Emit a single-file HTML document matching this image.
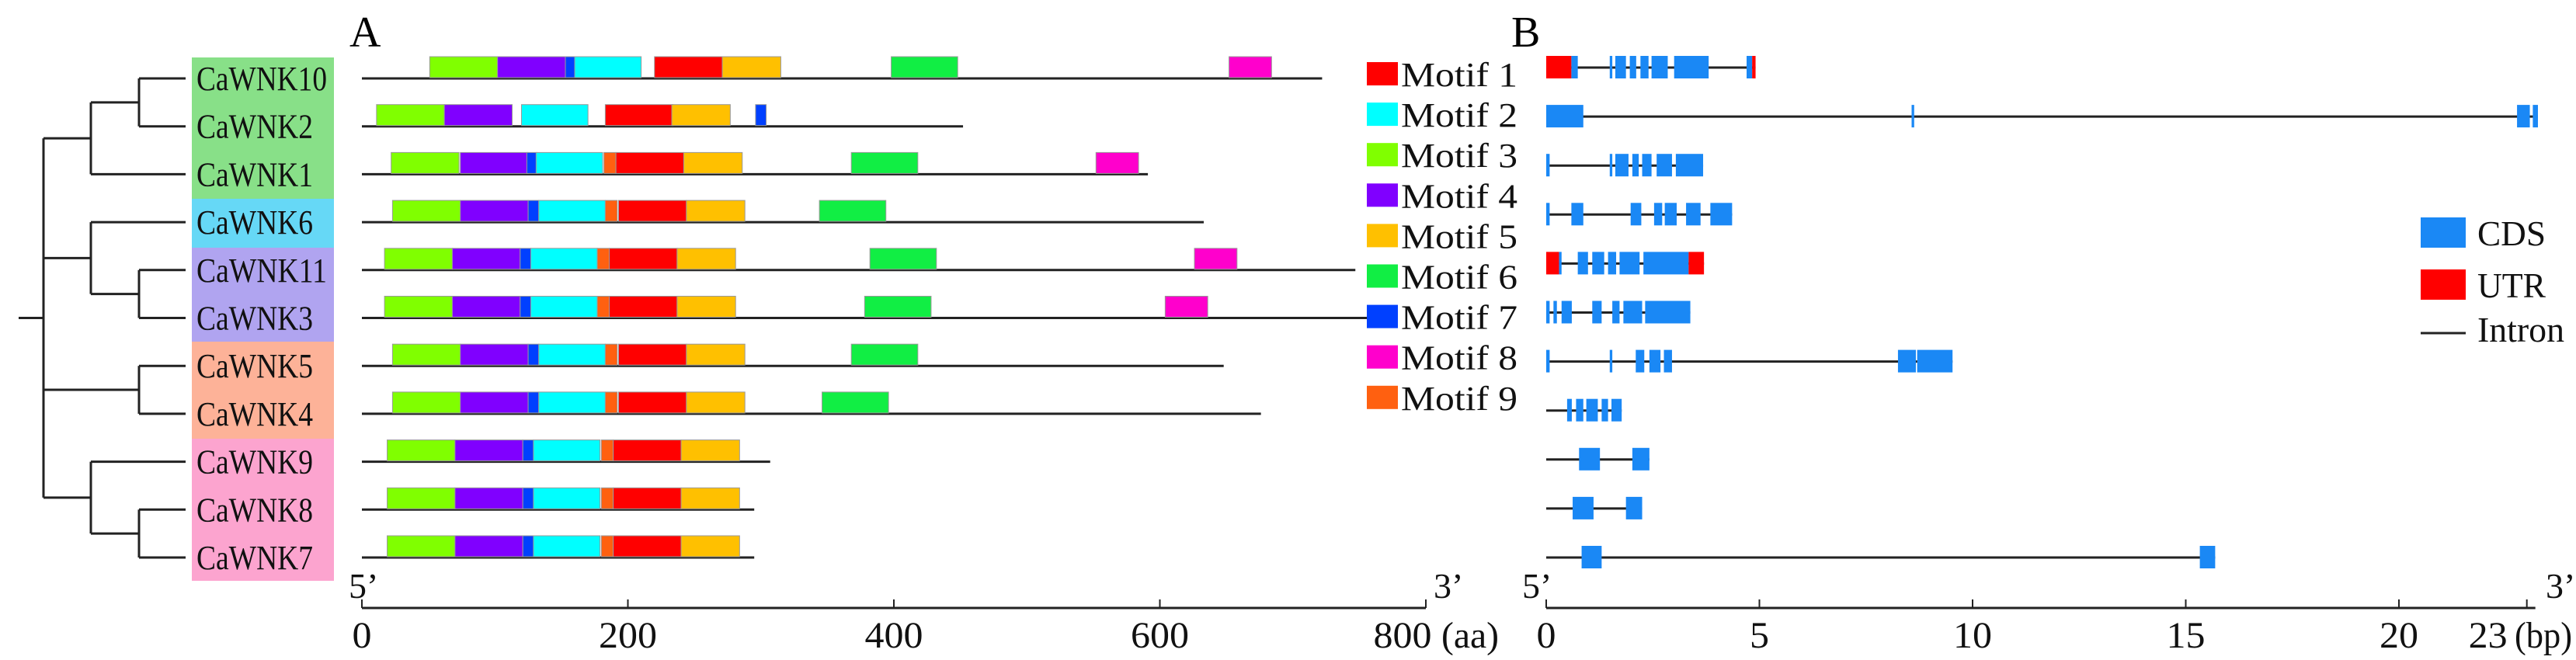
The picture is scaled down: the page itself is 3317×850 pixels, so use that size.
<!DOCTYPE html>
<html><head><meta charset="utf-8"><style>
html,body{margin:0;padding:0;background:#fff;}
svg{display:block;font-family:"Liberation Serif",serif;}
</style></head><body>
<svg id="fig" width="3317" height="850" viewBox="0 0 3317 850" xmlns="http://www.w3.org/2000/svg">
<g id="tree" stroke="#222" stroke-width="3" fill="none"></g>
<g id="labels"></g>
<g id="panelA"></g>
<g id="panelB"></g>
<g id="legend"></g>
<text x="450" y="60" font-size="56">A</text>
<text x="1946" y="60" font-size="56">B</text>
</svg>
<script>
const genes = ["CaWNK10","CaWNK2","CaWNK1","CaWNK6","CaWNK11","CaWNK3","CaWNK5","CaWNK4","CaWNK9","CaWNK8","CaWNK7"];
const proteinLengths = [722,452,591,633,747,764,648,676,307,295,295];
const motifColors = ["#ff0000","#00ffff","#80ff00","#8000ff","#ffc000","#11ee44","#0040ff","#ff00cc","#ff6010"];
const motifWidths = [51,50,51,51,44,50,8,32,9];
const motifIds = [
 [3,4,7,2,1,5,6,8],
 [3,4,2,1,5,7],
 [3,4,7,2,9,1,5,6,8],
 [3,4,7,2,9,1,5,6],
 [3,4,7,2,9,1,5,6,8],
 [3,4,7,2,9,1,5,6,8],
 [3,4,7,2,9,1,5,6],
 [3,4,7,2,9,1,5,6],
 [3,4,7,2,9,1,5],
 [3,4,7,2,9,1,5],
 [3,4,7,2,9,1,5]];
const motifStarts = [
 [51,102,153,160,220,271,398,652],
 [11,62,120,183,233,296],
 [22,74,124,131,182,191,242,368,552],
 [23,74,125,133,183,193,244,344],
 [17,68,119,127,177,186,237,382,626],
 [17,68,119,127,177,186,237,378,604],
 [23,74,125,133,183,193,244,368],
 [23,74,125,133,183,193,244,346],
 [19,70,121,129,180,189,240],
 [19,70,121,129,180,189,240],
 [19,70,121,129,180,189,240]];
const aaTicks = [0,200,400,600,800];
const kbTicks = [0,5,10,15,20,23];
const geneLengthsKb = [4.91,23.26,3.68,4.36,3.70,3.38,9.53,1.77,2.42,2.25,15.69];
const exons = [
 [[0,0.59,"U"],[0.59,0.74,"C"],[1.49,1.55,"C"],[1.62,1.87,"C"],[1.96,2.11,"C"],[2.21,2.40,"C"],[2.47,2.85,"C"],[3.0,3.81,"C"],[4.70,4.83,"C"],[4.83,4.91,"U"]],
 [[0,0.87,"C"],[8.57,8.63,"C"],[22.77,23.07,"C"],[23.14,23.26,"C"]],
 [[0,0.08,"C"],[1.49,1.55,"C"],[1.62,1.93,"C"],[2.02,2.17,"C"],[2.25,2.47,"C"],[2.59,2.95,"C"],[3.04,3.68,"C"]],
 [[0,0.08,"C"],[0.59,0.87,"C"],[1.98,2.23,"C"],[2.53,2.72,"C"],[2.78,3.06,"C"],[3.28,3.62,"C"],[3.85,4.36,"C"]],
 [[0,0.30,"U"],[0.30,0.36,"C"],[0.74,0.98,"C"],[1.08,1.36,"C"],[1.45,1.64,"C"],[1.72,2.19,"C"],[2.28,3.34,"C"],[3.34,3.70,"U"]],
 [[0,0.08,"C"],[0.17,0.25,"C"],[0.36,0.60,"C"],[1.08,1.30,"C"],[1.55,1.72,"C"],[1.81,2.25,"C"],[2.32,3.38,"C"]],
 [[0,0.08,"C"],[1.49,1.55,"C"],[2.10,2.30,"C"],[2.42,2.68,"C"],[2.76,2.95,"C"],[8.25,8.67,"C"],[8.70,9.53,"C"]],
 [[0.49,0.60,"C"],[0.70,0.87,"C"],[0.94,1.21,"C"],[1.30,1.45,"C"],[1.53,1.77,"C"]],
 [[0.77,1.26,"C"],[2.02,2.42,"C"]],
 [[0.62,1.11,"C"],[1.87,2.25,"C"]],
 [[0.83,1.30,"C"],[15.33,15.69,"C"]]];

const NS="http://www.w3.org/2000/svg";
function mk(parent,tag,attrs,text){const e=document.createElementNS(NS,tag);for(const k in attrs)e.setAttribute(k,attrs[k]);if(text!==undefined)e.textContent=text;parent.appendChild(e);return e;}
const xA=aa=>466+aa*1.7125;
const xB=kb=>1991+kb*54.9;
const rowY=i=>101+i*61.7;
const rowYB=i=>87+i*63.1;

const L=document.getElementById('labels');
const bandEdges=[74,256,319,440,565,748];
const bandCols=["#88e088","#66d8f6","#b0a4f0","#fdb298","#fca4cf"];
for(let b=0;b<5;b++){
 const r=mk(L,'rect',{x:247,y:bandEdges[b],width:183,height:bandEdges[b+1]-bandEdges[b],fill:bandCols[b]});
 
 
}
genes.forEach((g,i)=>{
 const t=mk(L,'text',{x:253,y:rowY(i)+15,'font-size':44,textLength:g.length>6?168:150,lengthAdjust:'spacingAndGlyphs',fill:'#111'},g);
 
 
});

const T=document.getElementById('tree');
function ln(x1,y1,x2,y2){const l=mk(T,'line',{x1,y1,x2,y2});}
const leafY=genes.map((g,i)=>rowY(i));
function clade(a,b,x){const ya=a.y,yb=b.y;ln(x,ya,a.x,ya);ln(x,yb,b.x,yb);ln(x,ya,x,yb);return{x,y:(ya+yb)/2};}
const leaf=i=>({x:239,y:leafY[i]});
const c102=clade(leaf(0),leaf(1),179);
const g1=clade(c102,leaf(2),117);
const c113=clade(leaf(4),leaf(5),179);
const g2=clade(leaf(3),c113,117);
const g3=clade(leaf(6),leaf(7),179);
const c87=clade(leaf(9),leaf(10),179);
const g4=clade(leaf(8),c87,117);
[g1,g2,g3,g4].forEach(g=>ln(56,g.y,g.x,g.y));
ln(56,g1.y,56,g4.y);
ln(24,(g1.y+g4.y)/2,56,(g1.y+g4.y)/2);

const A=document.getElementById('panelA');
genes.forEach((g,i)=>{
 const y=rowY(i);
 const l=mk(A,'line',{x1:xA(0),y1:y,x2:xA(proteinLengths[i]),y2:y,stroke:'#222','stroke-width':3});
 
 
 motifIds[i].forEach((m,j)=>{
  const s=motifStarts[i][j];
  const r=mk(A,'rect',{x:xA(s),y:y-28,width:motifWidths[m-1]*1.7125,height:27,fill:motifColors[m-1],stroke:'#999','stroke-width':1});
  
  
 });
});
function axis(P,x0,x1,ticks,xf,name,lastShift){
 const ax=mk(P,'line',{x1:x0,y1:783,x2:x1,y2:783,stroke:'#222','stroke-width':3});
 
 
 ticks.forEach((t,k)=>{
  const tk=mk(P,'line',{x1:xf(t),y1:772,x2:xf(t),y2:783,stroke:'#222','stroke-width':2});
  
  
  const s=String(t);
  const off=(k===ticks.length-1)?lastShift:0;
  const tl=mk(P,'text',{x:xf(t)+off,y:834,'font-size':48,'text-anchor':'middle',textLength:s.length*25,lengthAdjust:'spacingAndGlyphs',fill:'#111'},s);
  
  
 });
}
axis(A,xA(0),xA(800),aaTicks,xA,'aa',-30);
mk(A,'text',{x:1856,y:834,'font-size':48,fill:'#111',textLength:74,lengthAdjust:'spacingAndGlyphs',},'(aa)');
mk(A,'text',{x:449,y:770,'font-size':46,fill:'#111',},'5’');
mk(A,'text',{x:1846,y:770,'font-size':46,fill:'#111',},'3’');

const B=document.getElementById('panelB');
genes.forEach((g,i)=>{
 const y=rowYB(i);
 const l=mk(B,'line',{x1:xB(0),y1:y,x2:xB(geneLengthsKb[i]),y2:y,stroke:'#222','stroke-width':3});
 
 
 exons[i].forEach(e=>{
  const w=Math.max(3,xB(e[1])-xB(e[0]));
  const r=mk(B,'rect',{x:xB(e[0]),y:y-15,width:w,height:29,fill:e[2]==='U'?'#ff0000':'#1a88f5'});
  
  
 });
});
axis(B,xB(0),xB(23.2),kbTicks,xB,'kb',-50);
mk(B,'text',{x:3238,y:834,'font-size':48,fill:'#111',textLength:74,lengthAdjust:'spacingAndGlyphs',},'(bp)');
mk(B,'text',{x:1960,y:770,'font-size':46,fill:'#111',},'5’');
mk(B,'text',{x:3278,y:770,'font-size':46,fill:'#111',},'3’');

const G=document.getElementById('legend');
motifColors.forEach((c,i)=>{
 const y=95+i*52.1;
 const r=mk(G,'rect',{x:1760,y:y-15,width:40,height:30,fill:c});
 
 
 const t=mk(G,'text',{x:1804,y:y+16,'font-size':44,fill:'#111',textLength:150,lengthAdjust:'spacingAndGlyphs'},'Motif '+(i+1));
 
 
});
mk(G,'rect',{x:3117,y:280,width:58,height:39,fill:'#1a88f5',});
mk(G,'text',{x:3190,y:316,'font-size':46,fill:'#111',textLength:88,lengthAdjust:'spacingAndGlyphs',},'CDS');
mk(G,'rect',{x:3117,y:347,width:58,height:39,fill:'#ff0000',});
mk(G,'text',{x:3190,y:383,'font-size':46,fill:'#111',textLength:88,lengthAdjust:'spacingAndGlyphs',},'UTR');
mk(G,'line',{x1:3117,y1:429,x2:3175,y2:429,stroke:'#222','stroke-width':3,});
mk(G,'text',{x:3190,y:440,'font-size':46,fill:'#111',textLength:112,lengthAdjust:'spacingAndGlyphs',},'Intron');
</script>
</body></html>
